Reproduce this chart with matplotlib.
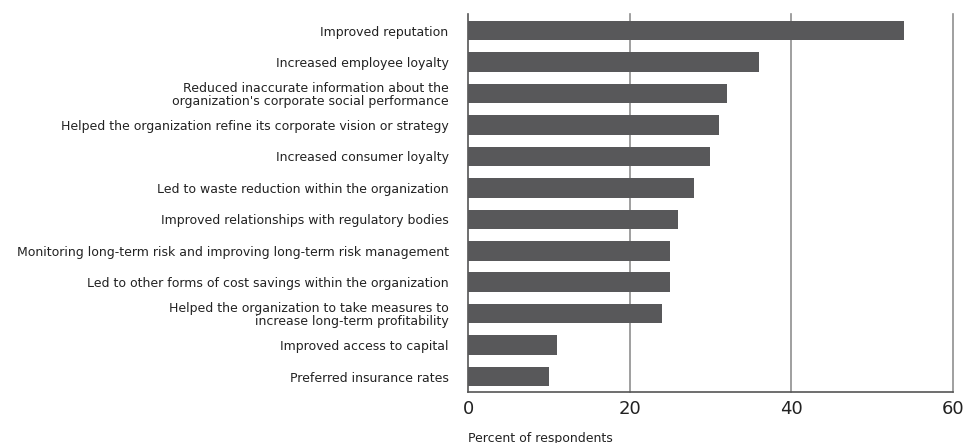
import matplotlib.pyplot as plt

# Survey results, top to bottom
categories = [
    "Improved reputation",
    "Increased employee loyalty",
    "Reduced inaccurate information about the\norganization's corporate social performance",
    "Helped the organization refine its corporate vision or strategy",
    "Increased consumer loyalty",
    "Led to waste reduction within the organization",
    "Improved relationships with regulatory bodies",
    "Monitoring long-term risk and improving long-term risk management",
    "Led to other forms of cost savings within the organization",
    "Helped the organization to take measures to\nincrease long-term profitability",
    "Improved access to capital",
    "Preferred insurance rates",
]
values = [54, 36, 32, 31, 30, 28, 26, 25, 25, 24, 11, 10]
xticks = [0, 20, 40, 60]

fig = plt.figure(figsize=(9.66, 4.43), dpi=100)
ax = fig.add_axes([0.4845, 0.115, 0.502, 0.853])

pos = list(range(len(categories)))
ax.barh(pos, values, height=0.62, color="#58585a", zorder=3)
ax.set_yticks(pos)
ax.set_yticklabels(categories, fontsize=9, color="#222222", linespacing=1.0)
ax.set_ylim(len(categories) - 0.51, -0.52)

ax.set_xlim(0, 60)
ax.set_xticks(xticks)
ax.set_xticklabels([str(t) for t in xticks], fontsize=13, color="#222222")
ax.tick_params(axis="both", length=0)
ax.tick_params(axis="y", pad=14)
ax.tick_params(axis="x", pad=6)

for t in xticks[1:]:
    ax.axvline(t, color="#8f8f8f", lw=1.2, zorder=1, clip_on=False)

for s in ["top", "right"]:
    ax.spines[s].set_visible(False)
ax.spines["left"].set_color("#555555")
ax.spines["bottom"].set_color("#555555")
ax.spines["left"].set_linewidth(1.2)
ax.spines["bottom"].set_linewidth(1.2)

ax.set_xlabel("Percent of respondents", fontsize=9, color="#222222")
ax.xaxis.set_label_coords(0.0, -0.105)
ax.xaxis.label.set_horizontalalignment("left")

fig.savefig("out.png", dpi=100)
